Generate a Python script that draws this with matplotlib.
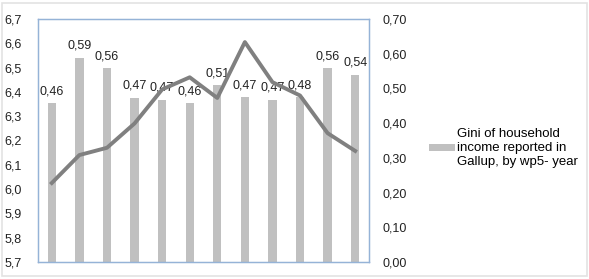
import matplotlib
matplotlib.use("Agg")
import matplotlib.pyplot as plt
import numpy as np

# Gini per wp5-year (right axis) and the unlabelled line series (left axis)
gini = [0.46, 0.59, 0.56, 0.47, 0.47, 0.46, 0.51, 0.47, 0.47, 0.48, 0.56, 0.54]
bar_heights = [0.458, 0.588, 0.559, 0.473, 0.467, 0.458, 0.51, 0.475, 0.467, 0.475, 0.559, 0.54]
line_vals = [6.025, 6.14, 6.17, 6.27, 6.41, 6.46, 6.375, 6.605, 6.44, 6.385, 6.23, 6.157]
legend_label = "Gini of household\nincome reported in\nGallup, by wp5- year"

plt.rcParams['font.family'] = ['Liberation Sans', 'DejaVu Sans']

fig = plt.figure(figsize=(5.89, 2.79), dpi=100)
fig.patches.append(plt.Rectangle((0.003, 0.012), 0.994, 0.976, transform=fig.transFigure,
                                 fill=False, edgecolor='#e3e3e3', linewidth=1.2))

ax = fig.add_axes([0.0645, 0.061, 0.562, 0.871])
x = np.arange(len(gini))
bars = ax.bar(x, bar_heights, width=0.3, color='#c0c0c0', label=legend_label, zorder=2)
for xi, h, g in zip(x, bar_heights, gini):
    ax.text(xi, h + 0.017, f"{g:.2f}".replace('.', ','), ha='center', va='bottom',
            fontsize=9, color='#222222', zorder=3)
ax.set_ylim(0, 0.70)
ax.set_xlim(-0.5, len(gini) - 0.5)
ax.set_xticks([])

ax2 = ax.twinx()
ax2.plot(x, line_vals, color='#808080', linewidth=2.8, zorder=4)
ax2.set_ylim(5.7, 6.7)

# bars scale on the right, line scale on the left
ax.yaxis.tick_right()
ax.set_yticks(np.arange(0, 0.71, 0.1))
ax.set_yticklabels([f"{v:.2f}".replace('.', ',') for v in np.arange(0, 0.71, 0.1)])
ax.tick_params(axis='y', length=0, pad=10, labelsize=9, labelcolor='#222222')

ax2.yaxis.tick_left()
ax2.set_yticks(np.arange(5.7, 6.71, 0.1))
ax2.set_yticklabels([f"{v:.1f}".replace('.', ',') for v in np.arange(5.7, 6.71, 0.1)])
ax2.tick_params(axis='y', length=0, pad=12, labelsize=9, labelcolor='#222222')

for a in (ax, ax2):
    for s in a.spines.values():
        s.set_color('#95b3d7')
        s.set_linewidth(0.9)

fig.legend(handles=[bars], labels=[legend_label], loc='center left',
           bbox_to_anchor=(0.728, 0.47), frameon=False, fontsize=9.5,
           handlelength=2.0, handleheight=0.45, handletextpad=0.15,
           borderaxespad=0, borderpad=0)

fig.savefig("out.png", dpi=100)
